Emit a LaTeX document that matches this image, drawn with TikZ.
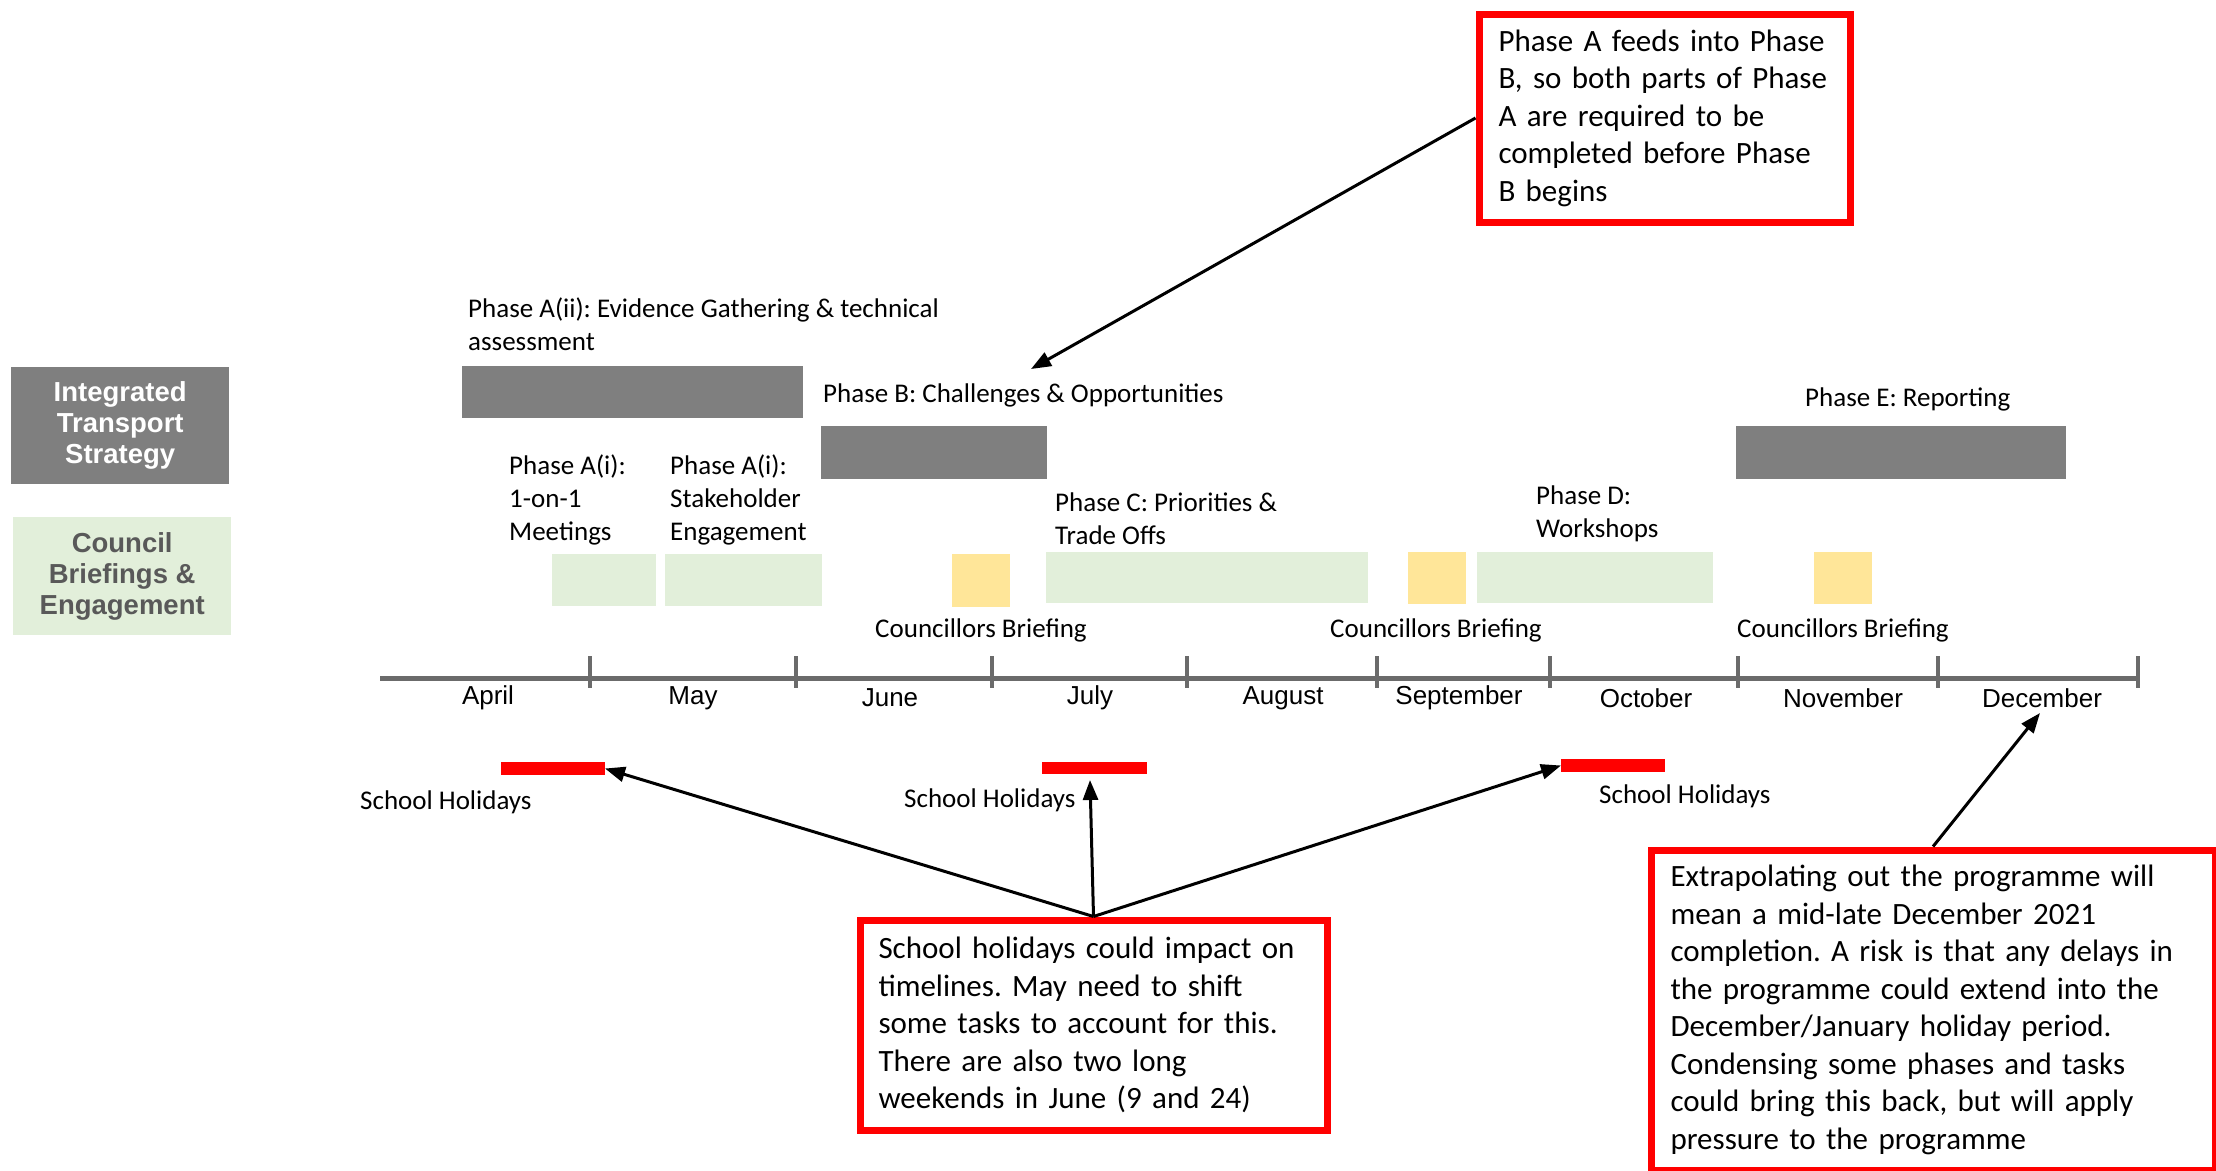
\documentclass[tikz,border=0pt]{standalone}
\usepackage{fontspec}
\setmainfont{Carlito}
\newfontfamily\calfont{Carlito}
\newfontfamily\arifont{Liberation Sans}
\usetikzlibrary{arrows.meta}
\definecolor{dgray}{HTML}{7F7F7F}
\definecolor{lgreen}{HTML}{E2EFDA}
\definecolor{lyellow}{HTML}{FFE699}
\definecolor{tgray}{HTML}{595959}
\definecolor{axisgray}{HTML}{6B6B6B}
\frenchspacing
\begin{document}
\begin{tikzpicture}[x=1pt,y=-1pt,
  barbox/.style={inner sep=0pt, outer sep=0pt, anchor=north west},
  lbl/.style={font=\calfont\fontsize{27}{33}\selectfont, inner sep=0pt, align=left, anchor=west},
  month/.style={font=\arifont\fontsize{26}{30}\selectfont, inner sep=0pt},
  callout/.style={draw=red, line width=7pt, fill=white, anchor=north west, align=left,
     font=\calfont\fontsize{31}{37.5}\selectfont, inner ysep=0pt},
  arr/.style={line width=3pt, -{Triangle[length=20pt,width=15pt]}},
  sidebox/.style={inner sep=0pt, anchor=north west, align=center,
     font=\arifont\bfseries\fontsize{27.5}{31}\selectfont},
]
\useasboundingbox (0,0) rectangle (2216,1170);

% left legend boxes
\node[sidebox, fill=dgray, text=white, minimum width=218pt, minimum height=117pt] (its) at (11,367)
  {Integrated\\Transport\\Strategy};
\node[sidebox, fill=lgreen, text=tgray, minimum width=218pt, minimum height=118pt] (cbe) at (13,517)
  {Council\\Briefings \&\\Engagement};

% dark grey bars
\node[barbox, fill=dgray, minimum width=341pt, minimum height=52pt] (barAii) at (462,366) {};
\node[barbox, fill=dgray, minimum width=226pt, minimum height=53pt] (barB) at (821,426) {};
\node[barbox, fill=dgray, minimum width=330pt, minimum height=53pt] (barE) at (1736,426) {};

% green bars
\node[barbox, fill=lgreen, minimum width=104pt, minimum height=52pt] (gA1) at (552,554) {};
\node[barbox, fill=lgreen, minimum width=157pt, minimum height=52pt] (gA2) at (665,554) {};
\node[barbox, fill=lgreen, minimum width=322pt, minimum height=51pt] (gC) at (1046,552) {};
\node[barbox, fill=lgreen, minimum width=236pt, minimum height=51pt] (gD) at (1477,552) {};

% yellow bars
\node[barbox, fill=lyellow, minimum width=58pt, minimum height=53pt] (y1) at (952,554) {};
\node[barbox, fill=lyellow, minimum width=58pt, minimum height=52pt] (y2) at (1408,552) {};
\node[barbox, fill=lyellow, minimum width=58pt, minimum height=52pt] (y3) at (1814,552) {};

% phase labels
\node[lbl] (lAii) at (468,324) {Phase A(ii): Evidence Gathering \& technical\\assessment};
\node[lbl] (lB) at (823,395) {Phase B: Challenges \& Opportunities};
\node[lbl] (lE) at (1805,399) {Phase E: Reporting};
\node[lbl] (lA1) at (509,500) {Phase A(i):\\1-on-1\\Meetings};
\node[lbl] (lA2) at (670,500) {Phase A(i):\\Stakeholder\\Engagement};
\node[lbl] (lC) at (1055,519) {Phase C: Priorities \&\\Trade Offs};
\node[lbl] (lD) at (1536,514) {Phase D:\\Workshops};

% councillors briefing labels
\node[lbl] (cb1) at (875,630) {Councillors Briefing};
\node[lbl] (cb2) at (1330,630) {Councillors Briefing};
\node[lbl] (cb3) at (1737,630) {Councillors Briefing};

% timeline
\draw[axisgray, line width=5pt] (380,678) -- (2140,678);
\foreach \tx in {590,796,992,1187,1377,1550,1738,1938,2138}
  \draw[axisgray, line width=4.5pt] (\tx,656) -- (\tx,688);

% months
\node[month] (mApr) at (488,698) {April};
\node[month] (mMay) at (693,698) {May};
\node[month] (mJun) at (890,698) {June};
\node[month] (mJul) at (1090,698) {July};
\node[month] (mAug) at (1283,698) {August};
\node[month] (mSep) at (1459,698) {September};
\node[month] (mOct) at (1646,698) {October};
\node[month] (mNov) at (1843,698) {November};
\node[month] (mDec) at (2042,698) {December};

% school holidays
\node[barbox, fill=red, minimum width=104pt, minimum height=13pt] (hol1) at (501,762) {};
\node[barbox, fill=red, minimum width=105pt, minimum height=12pt] (hol2) at (1042,762) {};
\node[barbox, fill=red, minimum width=104pt, minimum height=13pt] (hol3) at (1561,759) {};
\node[lbl] (sh1) at (360,802) {School Holidays};
\node[lbl] (sh2) at (904,800) {School Holidays};
\node[lbl] (sh3) at (1599,796) {School Holidays};

% callouts
\node[callout, text width=332pt, inner xsep=19.5pt, minimum height=208pt] (cA) at (1475.5,10.5)
  {Phase A feeds into Phase\\B, so both parts of Phase\\A are required to be\\completed before Phase\\B begins};
\node[callout, text width=430pt, inner xsep=18.5pt, minimum height=210pt] (cM) at (856.5,916.5)
  {School holidays could impact on\\timelines. May need to shift\\some tasks to account for this.\\There are also two long\\weekends in June (9 and 24)};
\node[callout, text width=525pt, inner xsep=19.5pt, minimum height=320pt] (cR) at (1647.5,846.5)
  {Extrapolating out the programme will\\mean a mid-late December 2021\\completion. A risk is that any delays in\\the programme could extend into the\\December/January holiday period.\\Condensing some phases and tasks\\could bring this back, but will apply\\pressure to the programme};

% arrows
\coordinate (tipB) at (1031,369);
\coordinate (tipJul) at (1090,780);
\coordinate (tipDec) at (2040,713);
\draw[arr] (cA.west) -- (tipB);
\draw[arr] (cM.north) -- (hol1.east);
\draw[arr] (cM.north) -- (tipJul);
\draw[arr] (cM.north) -- (hol3.west);
\draw[arr] (cR.north) -- (tipDec);
\end{tikzpicture}
\end{document}
